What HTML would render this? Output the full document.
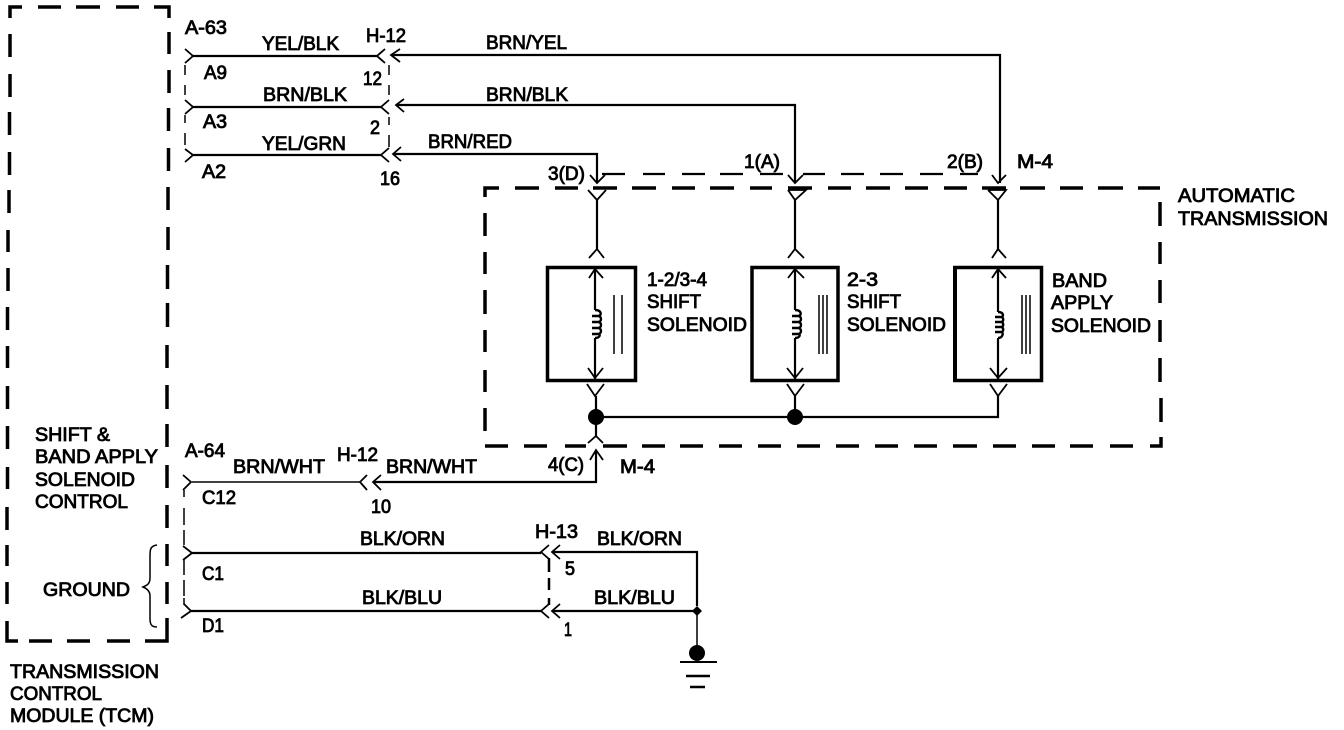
<!DOCTYPE html>
<html><head><meta charset="utf-8"><style>
html,body{margin:0;padding:0;background:#fff;width:1344px;height:730px;overflow:hidden}
svg{display:block}
text{font-family:"Liberation Sans",sans-serif;font-size:19px;fill:#000;stroke:#000;stroke-width:.85}
.w{fill:none;stroke:#000;stroke-width:2.2}
.t{fill:none;stroke:#000;stroke-width:1.5}
.d{fill:none;stroke:#000;stroke-width:3.5}
.f{fill:none;stroke:#000;stroke-width:1.8}
.b{fill:none;stroke:#000;stroke-width:3.5}
</style></head><body>
<svg width="1344" height="730" viewBox="0 0 1344 730" xmlns="http://www.w3.org/2000/svg">
<!-- TCM box -->
<path class="d" d="M10 18V7H22M38 7H61M76 7H100M116 7H139M154 7H169V18"/>
<path class="d" d="M10 34V57M10 74V97M9.500 112V135M9.500 152V175M9 190V213M8 230V252M8 268V291M7.500 307V330M7.500 346V368M7.500 386V409M7.500 426V449M7.500 467V489M7 507V530M7 545V566M7 582V604M7 621V641H18M29 641H52M67 641H90M107 641H130M145 641H167V618"/>
<path class="d" d="M169 32V54M169 70V93M168.500 108V131M168.500 148V171M168 187V210M168 227V250M167.500 265V289M167.500 303V327M167 345V368M167 385V409M167 424V447M167 465V488M167 505V528M167 544V566M167 582V604"/>
<!-- AT box -->
<path class="d" d="M485 197V188H499M515 188H539M555 188H578M593 188H617M632 188H656M672 188H695M710 188H734M750 188H772M788 188H812M828 188H851M866 188H890M905 188H928M944 188H967M982 188H1006M1020 188H1045M1060 188H1083M1098 188H1123M1138 188H1160"/>
<path class="d" d="M1160 202V226M1160 242V264M1160 280V303M1160 320V342M1160 358V382M1161 398V422M1161 437V446H1150M1133 446H1110M1093 446H1070M1055 446H1032M1016 446H993M977 446H953M937 446H914M898 446H875M859 446H836M820 446H797M781 446H758M742 446H719M703 446H680M665 446H642M627 446H603M586 446H565M547 446H524M508 446H485"/>
<path class="d" d="M485 213V236M485 252V274M485 290V314M485 330V352M485 370V392M485 408V431"/>
<!-- M-4 thin dashed -->
<path class="w" d="M602 174H625M643 174H665M682 174H705M720 174H743M760 174H783M803 174H825M841 174H864M880 174H903M920 174H943M960 174H978"/>
<!-- top connector wires -->
<path class="w" d="M193 56H377M391 55H1000V183M192 107H381M396 105H795V183M193 155H381M393 154H597V183"/>
<path class="f" d="M185 49L193 56L185 63M185 100L193 107L185 114M185 149L193 155L185 162M385 49L377 56L385 63M400 49L391 55L400 62M389 100L381 107L389 114M404 99L396 105L404 112M389 148L381 155L389 162M401 147L393 154L401 161"/>
<path class="t" d="M185 65V75M185 85V95M185 115V123M185 133V145M389 65V75M389 85V95M389 117V125M389 135V147"/>
<!-- arrows into M-4 -->
<path class="f" d="M590 175L597 183L605 175M788 175L795 183L803 175M992 175L998 183L1006 175"/>
<!-- Y connectors -->
<path class="w" d="M597 200V250M795 200V250M998 200V250"/>
<path class="f" d="M588 190L597 200L606 190M788 190H806L795 200L788 190M988 190H1006L998 200L988 190M589 258L597 249L604 258M788 258L795 249L804 258M992 258L998 249L1006 258"/>
<!-- solenoid boxes -->
<rect class="b" x="547.500" y="267.500" width="88" height="113"/>
<rect class="b" x="752" y="267.500" width="86" height="113"/>
<rect class="b" x="955" y="267.500" width="86.500" height="113"/>
<path d="M953 266h4v116h-4z"/>
<!-- coils -->
<path class="w" d="M595 270V310M595 338V379M795 270V310M795 338V379M998 270V312M998 338V379"/>
<path style="fill:none;stroke:#000;stroke-width:2.4" d="M595 310C602 310 602 316 598 316H592H598C602 316 602 322 598 322H592H598C602 322 602 328 598 328H592H598C602 328 602 334 598 334H592H598C601 334 600 338 595 338M795 310C802 310 802 316 798 316H792H798C802 316 802 322 798 322H792H798C802 322 802 328 798 328H792H798C802 328 802 334 798 334H792H798C801 334 800 338 795 338M998 312C1004 312 1004 317 1001 317H995H1001C1004 317 1004 322 1001 322H995H1001C1004 322 1004 327 1001 327H995H1001C1004 327 1004 332 1001 332H995H1001C1004 332 1003 338 998 338"/>
<path class="f" d="M589 278L595 269L603 278M588 368L595 378L603 368M788 278L795 269L804 278M787 368L795 378L803 368M992 278L998 269L1006 278M990 368L998 378L1007 368"/>
<path class="t" d="M614 295V354M622 295V354M819 295V354M823 295V354M827 295V354M1022 295V354M1026 295V354M1030 295V354"/>
<!-- bottom bus -->
<path class="f" d="M587 384L595 396L604 384M787 384L795 396L804 384M990 384L998 396L1007 384"/>
<path class="w" d="M596 396V436M795 396V417M998 396V417H596"/>
<circle cx="596" cy="417" r="8"/><circle cx="795" cy="417" r="8"/>
<path class="f" d="M588 443L596 436L603 443M590 460L596 450L603 460"/>
<!-- C12 wire -->
<path class="w" d="M596 451V482H373"/>
<path class="t" d="M192 482H360"/>
<path class="f" d="M381 475L373 482L381 490M367 475L360 482L367 490M183 475L191 482L183 490"/>
<path class="t" d="M184 490V497M184 508V525M184 530V545M184 560V575M184 580V596M184 598V605"/>
<!-- ground wires -->
<path class="w" d="M192 553H541M552 552H697V606M191 611H541M552 611H697"/>
<path class="t" d="M697 611V653"/>
<path class="f" d="M183 546L192 553L183 560M181 618L191 611L184 604M549 545L541 552L549 559M560 545L552 552L560 559M549 604L541 611L549 618M560 604L552 611L560 618"/>
<path class="d" style="stroke-width:2.500" d="M549 558V572M549 578V590M549 598V605"/>
<path d="M697 606L702 611L697 616L692 611Z"/><circle cx="697" cy="653" r="8"/>
<path class="d" style="stroke-width:2" d="M680 662H717"/>
<path class="d" style="stroke-width:2.500" d="M686 676H710M690 687H705"/>
<!-- brace -->
<path class="t" d="M157 545C150 546 150 550 150 556V578C150 583 148 585 143 587C148 589 150 592 150 596V618C150 624 151 627 157 627"/>
<!-- labels -->
<text lengthAdjust="spacingAndGlyphs" x="185" y="34" textLength="42">A-63</text>
<text lengthAdjust="spacingAndGlyphs" x="262" y="50" textLength="77">YEL/BLK</text>
<text lengthAdjust="spacingAndGlyphs" x="366" y="42" textLength="40">H-12</text>
<text lengthAdjust="spacingAndGlyphs" x="486" y="49" textLength="81">BRN/YEL</text>
<text lengthAdjust="spacingAndGlyphs" x="204" y="79" textLength="23">A9</text>
<text lengthAdjust="spacingAndGlyphs" x="363" y="85" textLength="19">12</text>
<text lengthAdjust="spacingAndGlyphs" x="263" y="101" textLength="84">BRN/BLK</text>
<text lengthAdjust="spacingAndGlyphs" x="486" y="101" textLength="82">BRN/BLK</text>
<text lengthAdjust="spacingAndGlyphs" x="203" y="128" textLength="24">A3</text>
<text lengthAdjust="spacingAndGlyphs" x="370" y="134" textLength="10">2</text>
<text lengthAdjust="spacingAndGlyphs" x="262" y="150" textLength="84">YEL/GRN</text>
<text lengthAdjust="spacingAndGlyphs" x="428" y="148" textLength="84">BRN/RED</text>
<text lengthAdjust="spacingAndGlyphs" x="202" y="178" textLength="24">A2</text>
<text lengthAdjust="spacingAndGlyphs" x="380" y="185" textLength="20">16</text>
<text lengthAdjust="spacingAndGlyphs" x="548" y="180" textLength="37">3(D)</text>
<text lengthAdjust="spacingAndGlyphs" x="744" y="168" textLength="36">1(A)</text>
<text lengthAdjust="spacingAndGlyphs" x="947" y="168" textLength="36">2(B)</text>
<text lengthAdjust="spacingAndGlyphs" x="1017" y="168" textLength="36">M-4</text>
<text lengthAdjust="spacingAndGlyphs" x="1178" y="202" textLength="117">AUTOMATIC</text>
<text lengthAdjust="spacingAndGlyphs" x="1178" y="225" textLength="150">TRANSMISSION</text>
<text lengthAdjust="spacingAndGlyphs" x="647" y="286" textLength="60">1-2/3-4</text>
<text lengthAdjust="spacingAndGlyphs" x="647" y="308" textLength="54">SHIFT</text>
<text lengthAdjust="spacingAndGlyphs" x="647" y="331" textLength="100">SOLENOID</text>
<text lengthAdjust="spacingAndGlyphs" x="847" y="286" textLength="31">2-3</text>
<text lengthAdjust="spacingAndGlyphs" x="847" y="308" textLength="54">SHIFT</text>
<text lengthAdjust="spacingAndGlyphs" x="847" y="331" textLength="99">SOLENOID</text>
<text lengthAdjust="spacingAndGlyphs" x="1052" y="287" textLength="55">BAND</text>
<text lengthAdjust="spacingAndGlyphs" x="1051" y="309" textLength="62">APPLY</text>
<text lengthAdjust="spacingAndGlyphs" x="1051" y="332" textLength="100">SOLENOID</text>
<text lengthAdjust="spacingAndGlyphs" x="35" y="441" textLength="75">SHIFT &amp;</text>
<text lengthAdjust="spacingAndGlyphs" x="35" y="463" textLength="123">BAND APPLY</text>
<text lengthAdjust="spacingAndGlyphs" x="35" y="486" textLength="100">SOLENOID</text>
<text lengthAdjust="spacingAndGlyphs" x="35" y="508" textLength="93">CONTROL</text>
<text lengthAdjust="spacingAndGlyphs" x="43" y="596" textLength="87">GROUND</text>
<text lengthAdjust="spacingAndGlyphs" x="10" y="678" textLength="149">TRANSMISSION</text>
<text lengthAdjust="spacingAndGlyphs" x="10" y="700" textLength="92">CONTROL</text>
<text lengthAdjust="spacingAndGlyphs" x="10" y="722" textLength="144">MODULE (TCM)</text>
<text lengthAdjust="spacingAndGlyphs" x="185" y="457" textLength="40">A-64</text>
<text lengthAdjust="spacingAndGlyphs" x="233" y="473" textLength="92">BRN/WHT</text>
<text lengthAdjust="spacingAndGlyphs" x="337" y="461" textLength="41">H-12</text>
<text lengthAdjust="spacingAndGlyphs" x="386" y="473" textLength="91">BRN/WHT</text>
<text lengthAdjust="spacingAndGlyphs" x="548" y="471" textLength="36">4(C)</text>
<text lengthAdjust="spacingAndGlyphs" x="620" y="473" textLength="35">M-4</text>
<text lengthAdjust="spacingAndGlyphs" x="202" y="504" textLength="34">C12</text>
<text lengthAdjust="spacingAndGlyphs" x="371" y="513" textLength="20">10</text>
<text lengthAdjust="spacingAndGlyphs" x="360" y="545" textLength="85">BLK/ORN</text>
<text lengthAdjust="spacingAndGlyphs" x="535" y="538" textLength="43">H-13</text>
<text lengthAdjust="spacingAndGlyphs" x="597" y="545" textLength="85">BLK/ORN</text>
<text lengthAdjust="spacingAndGlyphs" x="565" y="575" textLength="10">5</text>
<text lengthAdjust="spacingAndGlyphs" x="202" y="580" textLength="22">C1</text>
<text lengthAdjust="spacingAndGlyphs" x="362" y="604" textLength="80">BLK/BLU</text>
<text lengthAdjust="spacingAndGlyphs" x="594" y="604" textLength="81">BLK/BLU</text>
<text lengthAdjust="spacingAndGlyphs" x="202" y="632" textLength="22">D1</text>
<text lengthAdjust="spacingAndGlyphs" x="564" y="636" textLength="8">1</text>
</svg>
</body></html>
